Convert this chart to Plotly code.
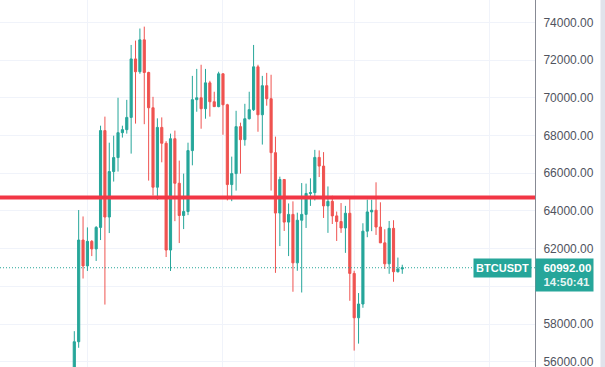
import pandas as pd
import plotly.graph_objects as go

# ---- data (daily BTCUSDT candles) ----
start_date = "2024-02-27"
opens = [54480, 57070, 62460, 61090, 62390, 61990, 63130, 68260, 63680, 66090,
         66830, 68150, 68310, 68960, 72060, 71380, 73070, 71340, 69470, 65260,
         68430, 67590, 61930, 67830, 65470, 63760, 63970, 67200, 69900, 70000,
         69420, 70790, 69790, 69530, 71270, 69630, 65400, 65980, 68470, 67780,
         68890, 69370, 71640, 69100, 70640, 69950, 67090, 63890, 65670, 63410,
         63820, 61250, 63510, 63820, 64930, 64970, 66840, 66380, 64270, 64510,
         63740, 63440, 63100, 63880, 60690, 58340, 59070, 62930, 63950, 64040,
         63150, 62310, 61200, 63080, 60780, 60930]
highs = [57630, 64050, 63710, 63130, 62460, 63200, 68520, 69000, 67620, 67990,
         70000, 68520, 69890, 72800, 73030, 73670, 73770, 71380, 70050, 68910,
         68960, 67700, 68100, 68260, 66670, 65980, 67620, 71160, 71530, 71750,
         71530, 70900, 70320, 71380, 71290, 69680, 66880, 69310, 68680, 69680,
         70320, 72800, 71750, 71160, 71320, 71220, 67940, 65820, 65690, 64400,
         64510, 63910, 65480, 65450, 65730, 67240, 67210, 67120, 65300, 64810,
         63970, 64420, 64270, 64760, 60830, 59650, 63350, 64600, 64600, 65520,
         64460, 63030, 63470, 63510, 61530, 61150]
lows = [54450, 56750, 60420, 60820, 61610, 61350, 62460, 59040, 62830, 65560,
        66090, 67890, 68100, 67040, 68630, 71270, 68600, 65610, 64820, 64590,
        66580, 61560, 60820, 63460, 62300, 63040, 63780, 66420, 69260, 68360,
        68890, 69000, 69520, 69500, 68040, 64560, 64520, 65080, 65980, 67460,
        68850, 69300, 68200, 67520, 69580, 65080, 60720, 62140, 62940, 61610,
        59720, 60830, 59680, 63100, 64270, 64560, 65800, 63630, 62840, 63310,
        62410, 62840, 61780, 59240, 56600, 56970, 58870, 62610, 62930, 62730,
        62300, 60930, 60670, 60250, 60740, 60670]
closes = [57070, 62460, 61090, 62390, 61990, 63130, 68260, 63680, 66090, 66830,
          68150, 68310, 68960, 72060, 71380, 73070, 71340, 69470, 65260, 68430,
          67590, 61930, 67830, 65470, 63760, 63970, 67200, 69900, 70000, 69420,
          70790, 69790, 69530, 71270, 69630, 65400, 65980, 68470, 67780, 68890,
          69370, 71640, 69100, 70640, 69950, 67090, 63890, 65670, 63410, 63820,
          61250, 63510, 63820, 64930, 64970, 66840, 66380, 64270, 64510, 63740,
          63440, 63100, 63880, 60690, 58340, 59070, 62930, 63950, 64040, 63150,
          62310, 61200, 63080, 60780, 60930, 60992]
dates = pd.date_range(start_date, periods=len(opens), freq="D")

symbol = "BTCUSDT"
last_price = 60992
last_time = "14:50:41"
level_price = 64720
tick_values = [56000, 58000, 60000, 62000, 64000, 66000, 68000, 70000, 72000, 74000]
tick_labels = ["56000.00", "58000.00", "", "62000.00", "64000.00", "66000.00",
               "68000.00", "70000.00", "72000.00", "74000.00"]

UP = "#26a69a"
DOWN = "#ef5350"
LEVEL = "#f23645"
GRID = "#f0f3fa"
FONT = "Liberation Sans, Arial, sans-serif"

fig = go.Figure(go.Candlestick(
    x=dates, open=opens, high=highs, low=lows, close=closes,
    increasing=dict(line=dict(color=UP, width=1), fillcolor=UP),
    decreasing=dict(line=dict(color=DOWN, width=1), fillcolor=DOWN),
    hoverinfo="skip",
))

fig.update_layout(
    width=605, height=367,
    margin=dict(l=0, r=70, t=0, b=0),
    paper_bgcolor="white", plot_bgcolor="white",
    showlegend=False,
    font=dict(family=FONT, size=12, color="#50535e"),
    xaxis=dict(
        type="date",
        range=["2024-02-10 00:14", "2024-06-11 08:24"],
        rangeslider=dict(visible=False),
        showticklabels=False, ticks="",
        showgrid=True, gridcolor=GRID, gridwidth=1,
        dtick="M1", tick0="2024-01-01",
        zeroline=False, showline=False,
    ),
    yaxis=dict(
        side="right",
        range=[55731, 75182],
        tickmode="array", tickvals=tick_values, ticktext=tick_labels,
        showgrid=True, gridcolor=GRID, gridwidth=1,
        zeroline=False, automargin=False,
        showline=True, linecolor="#878a94", linewidth=1,
        ticks="", ticklabelstandoff=5, ticklabeloverflow="allow",
        tickfont=dict(family=FONT, size=12, color="#50535e"),
    ),
)

# horizontal level line
fig.add_shape(type="line", xref="paper", x0=0, x1=1, yref="y",
              y0=level_price, y1=level_price,
              line=dict(color=LEVEL, width=4), layer="above")
# last price dotted line
fig.add_shape(type="line", xref="paper", x0=0, x1=1, yref="y",
              y0=last_price, y1=last_price,
              line=dict(color=UP, width=1, dash="1px,2px"), layer="above")

# right scrollbar strip
fig.add_annotation(
    xref="paper", x=1 + 65 / 535, xanchor="left",
    yref="paper", y=0.5, yanchor="middle",
    text=" ", showarrow=False, bgcolor="#e0e3eb",
    borderpad=0, width=5, height=367,
)

# symbol tag
fig.add_annotation(
    xref="paper", x=1, xanchor="right", xshift=-3,
    yref="y", y=last_price, yanchor="middle",
    text="<b>%s</b>" % symbol, showarrow=False,
    bgcolor=UP, borderpad=2, width=53, height=14,
    font=dict(family=FONT, size=11, color="white"),
)
# price tag
fig.add_annotation(
    xref="paper", x=1, xanchor="left",
    yref="y", y=last_price, yanchor="middle", yshift=-7,
    text="&nbsp;&nbsp;<b>%.2f</b><br>&nbsp;&nbsp;<b><span style='color:#e6f5f3'>%s</span></b>" % (last_price, last_time),
    showarrow=False, align="left", valign="middle",
    bgcolor=UP, borderpad=1, width=55, height=30,
    font=dict(family=FONT, size=11.5, color="white"),
)

fig.write_html(
    "out.html",
    config={"displayModeBar": False},
    post_script="document.body.style.margin='0';document.body.style.overflow='hidden';",
)
